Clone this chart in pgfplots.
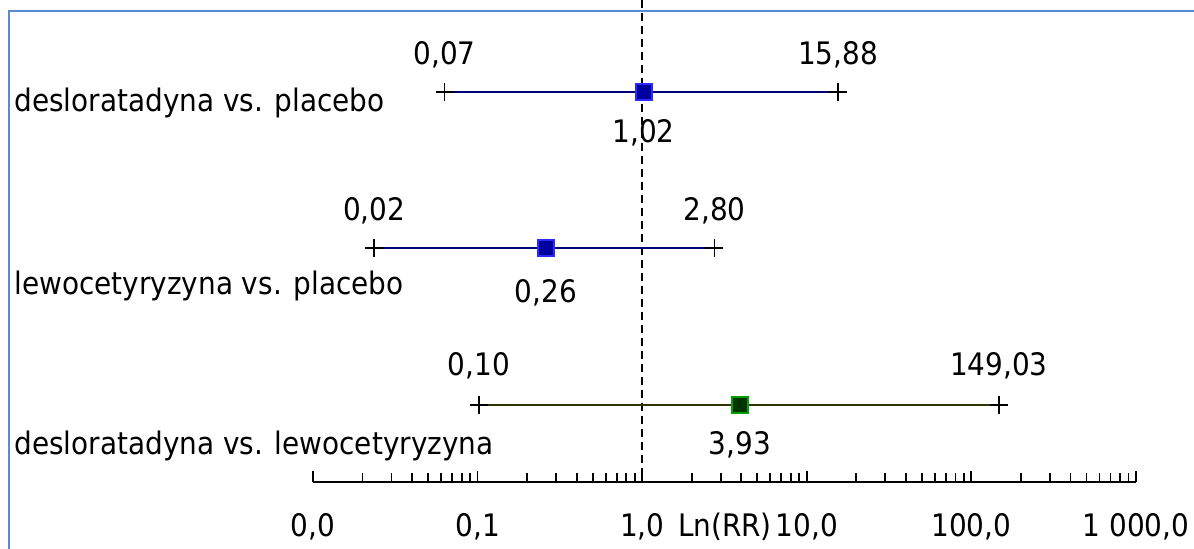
\documentclass[border=0pt]{standalone}
\usepackage{fontspec}
\setmainfont{DejaVu Sans Condensed}
\usepackage{pgfplots}
\pgfplotsset{compat=1.18}
\definecolor{frameblue}{HTML}{5A8BD2}
\definecolor{ciblue}{HTML}{00007A}
\definecolor{ciolive}{HTML}{333300}
\definecolor{ptblue}{HTML}{0000A0}
\definecolor{ptblueedge}{HTML}{2B2BFF}
\definecolor{ptgreen}{HTML}{003300}
\definecolor{ptgreenedge}{HTML}{00A000}
\begin{document}
\fontsize{15.5pt}{18pt}\selectfont
\begin{tikzpicture}
\begin{axis}[
 scale only axis, width=411.5pt, height=241pt,
 xmode=log, xmin=0.01, xmax=1000, ymin=-482, ymax=0,
 axis x line=bottom, axis y line=none,
 x axis line style={-, line width=1.3pt},
 xtick={0.01,0.1,1,10,100,1000},
 xticklabels={{0,0},{0,1},{1,0},{10,0},{100,0},{1 000,0}},
 minor xtick={0.02,0.03,0.04,0.05,0.06,0.07,0.08,0.09,0.2,0.3,0.4,0.5,0.6,0.7,0.8,0.9,2,3,4,5,6,7,8,9,20,30,40,50,60,70,80,90,200,300,400,500,600,700,800,900},
 xtick align=inside,
 major tick length=5.5pt, minor tick length=4.5pt,
 every tick/.style={black, line width=0.9pt},
 xticklabel style={anchor=base, yshift=-27.5pt, inner sep=0pt},
 clip=false,
]
% reference line at RR = 1
\addplot[black, line width=1.2pt, dash pattern=on 4pt off 2.5pt] coordinates {(1,0) (1,-482)};
% row 1
\addplot[ciblue, line width=1.3pt, mark=+, mark size=4.5pt, mark options={black, line width=0.75pt, solid}] coordinates {(0.063,-92) (15.5,-92)};
\addplot[only marks, mark=square*, mark size=4pt, mark options={fill=ptblue, draw=ptblueedge, line width=1pt}] coordinates {(1.02,-92)};
% row 2
\addplot[ciblue, line width=1.3pt, mark=+, mark size=4.5pt, mark options={black, line width=0.75pt, solid}] coordinates {(0.0235,-248) (2.75,-248)};
\addplot[only marks, mark=square*, mark size=4pt, mark options={fill=ptblue, draw=ptblueedge, line width=1pt}] coordinates {(0.26,-248)};
% row 3
\addplot[ciolive, line width=1.3pt, mark=+, mark size=4.5pt, mark options={black, line width=0.75pt, solid}] coordinates {(0.102,-405) (147,-405)};
\addplot[only marks, mark=square*, mark size=4pt, mark options={fill=ptgreen, draw=ptgreenedge, line width=1pt}] coordinates {(3.93,-405)};
% value labels
\node[anchor=base] at (axis cs:0.063,-65) {0,07};
\node[anchor=base] at (axis cs:15.5,-65) {15,88};
\node[anchor=base] at (axis cs:1.02,-143) {1,02};
\node[anchor=base] at (axis cs:0.0235,-221) {0,02};
\node[anchor=base] at (axis cs:2.75,-221) {2,80};
\node[anchor=base] at (axis cs:0.26,-303) {0,26};
\node[anchor=base] at (axis cs:0.102,-376) {0,10};
\node[anchor=base] at (axis cs:147,-376) {149,03};
\node[anchor=base] at (axis cs:3.93,-455) {3,93};
% row labels
\node[anchor=base west, inner sep=0pt] at (axis cs:1.53e-4,-112) {desloratadyna vs. placebo};
\node[anchor=base west, inner sep=0pt] at (axis cs:1.53e-4,-295) {lewocetyryzyna vs. placebo};
\node[anchor=base west, inner sep=0pt] at (axis cs:1.53e-4,-455) {desloratadyna vs. lewocetyryzyna};
% axis title
\node[anchor=base, inner sep=0pt] at (axis cs:3.18,-537) {Ln(RR)};
% frame
\draw[frameblue, line width=1.1pt] (axis cs:1.4227e-4,-549) -- (axis cs:1.4227e-4,-11) -- (axis cs:2300,-11);
\coordinate (BL) at (axis cs:1.2546e-4,-549);
\coordinate (TR) at (axis cs:2251.6,0);
\end{axis}
\pgfresetboundingbox
\path[use as bounding box] (BL) rectangle (TR);
\end{tikzpicture}
\end{document}
